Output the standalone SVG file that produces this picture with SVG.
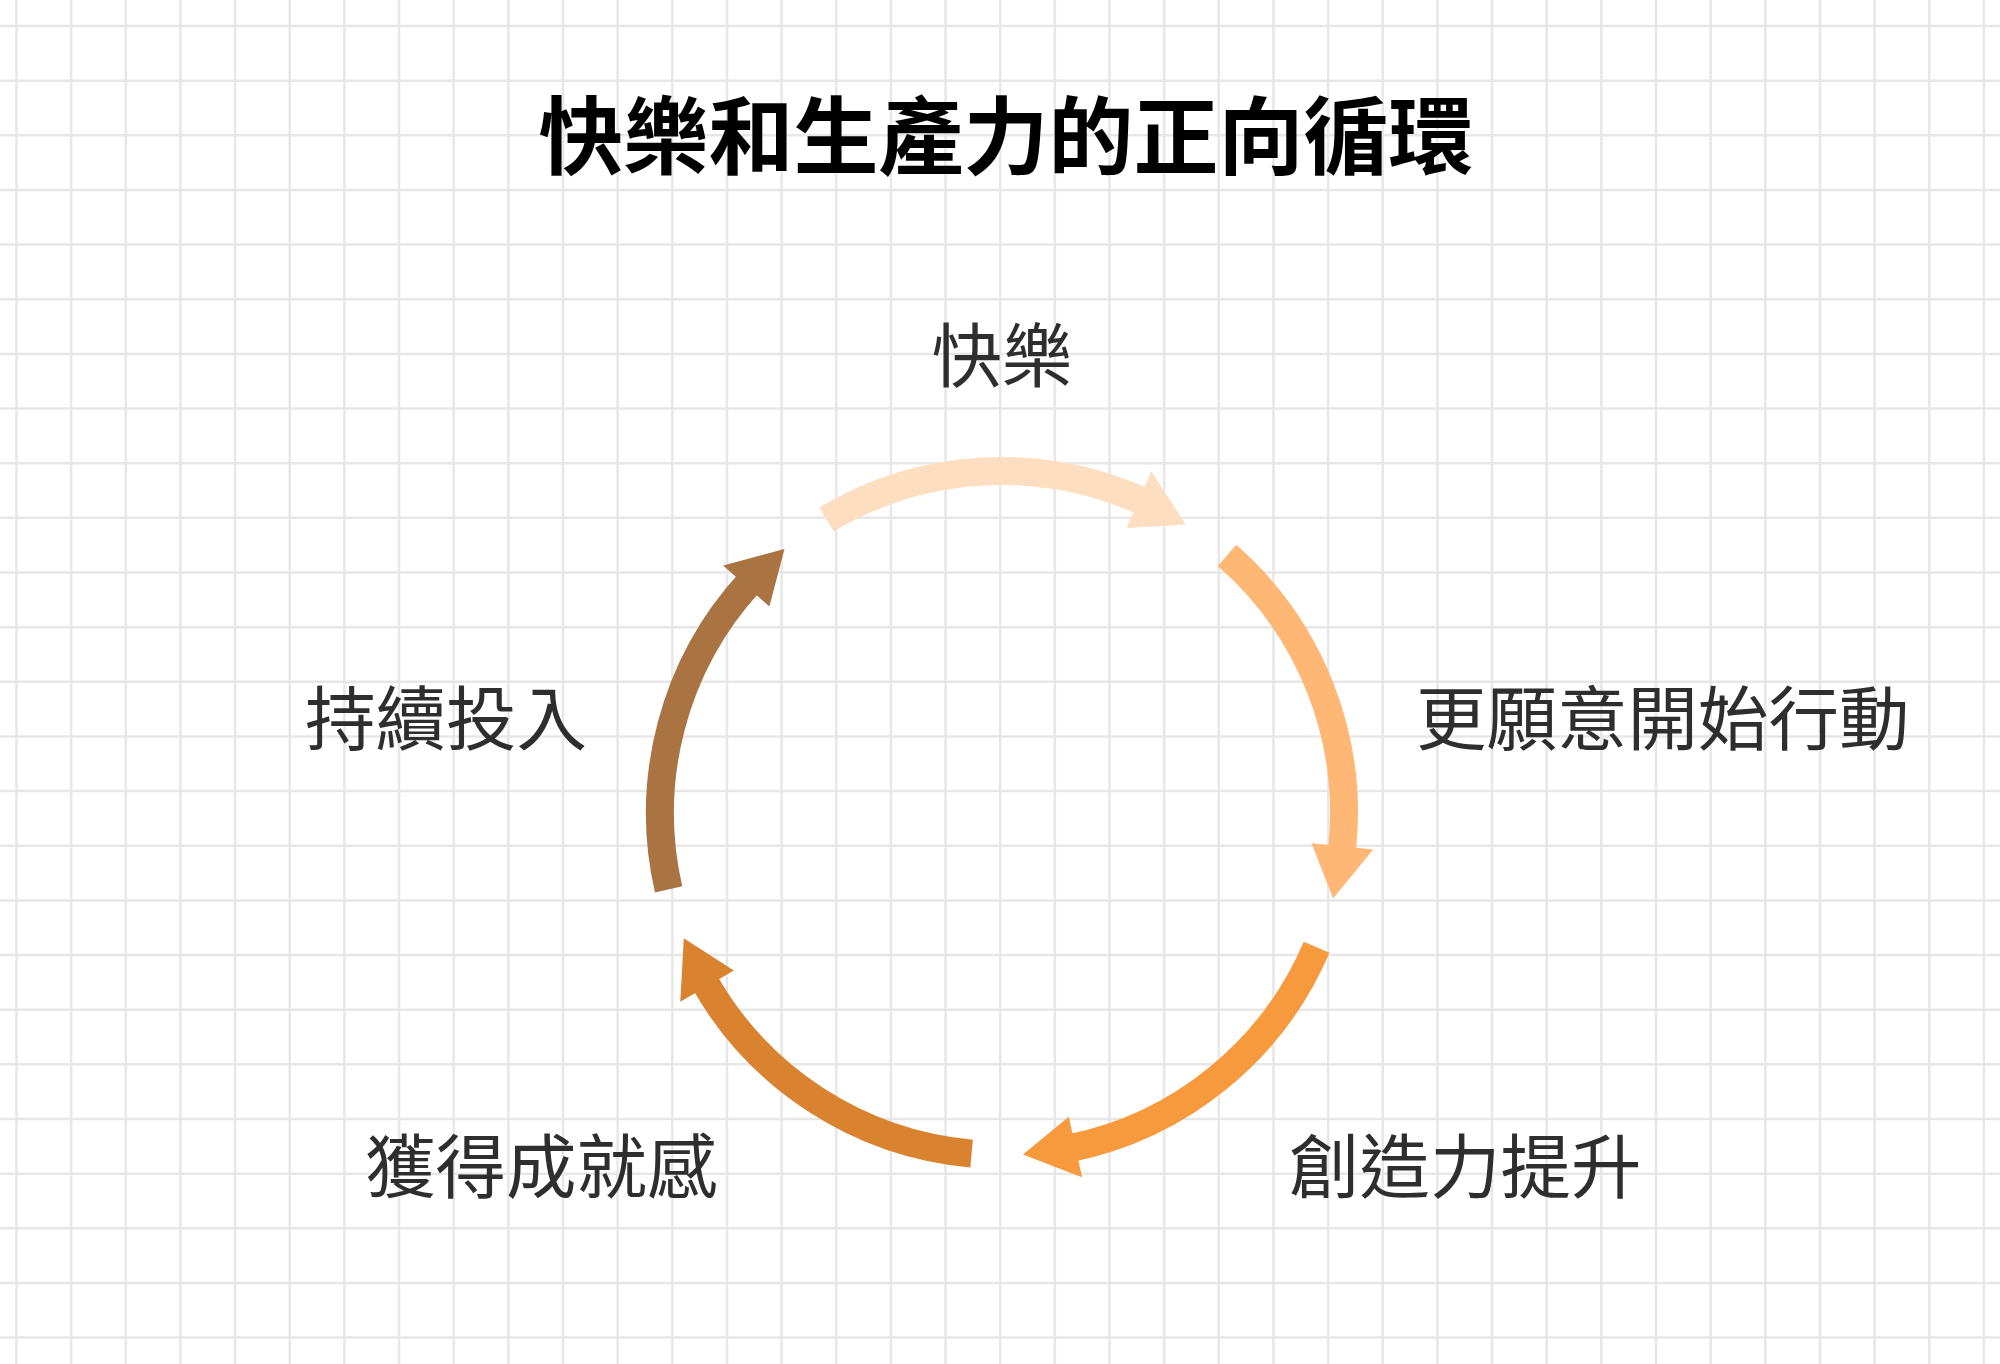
<svg xmlns="http://www.w3.org/2000/svg" width="2000" height="1364" viewBox="0 0 2000 1364">
<style>
.grid{fill:none;stroke:#e7e7e7;stroke-width:2.5}
.title{font-family:"Noto Sans CJK TC","Noto Sans CJK SC",sans-serif;font-weight:700;font-size:85px;fill:#000}
.label{font-family:"Noto Sans CJK TC","Noto Sans CJK SC",sans-serif;font-weight:400;font-size:70.5px;fill:#2e2e2e}
.shaft{fill:none;stroke-width:28;stroke-linecap:butt}
</style>
<rect x="0" y="0" width="2000" height="1364" fill="#ffffff"/>
<g id="grid">
<path class="grid" d="M16.5 0V1364M71.15 0V1364M125.8 0V1364M180.45 0V1364M235.1 0V1364M289.75 0V1364M344.4 0V1364M399.05 0V1364M453.7 0V1364M508.35 0V1364M563 0V1364M617.65 0V1364M672.3 0V1364M726.95 0V1364M781.6 0V1364M836.25 0V1364M890.9 0V1364M945.55 0V1364M1000.2 0V1364M1054.85 0V1364M1109.5 0V1364M1164.15 0V1364M1218.8 0V1364M1273.45 0V1364M1328.1 0V1364M1382.75 0V1364M1437.4 0V1364M1492.05 0V1364M1546.7 0V1364M1601.35 0V1364M1656 0V1364M1710.65 0V1364M1765.3 0V1364M1819.95 0V1364M1874.6 0V1364M1929.25 0V1364M1983.9 0V1364"/>
<path class="grid" d="M0 26H2000M0 80.65H2000M0 135.3H2000M0 189.95H2000M0 244.6H2000M0 299.25H2000M0 353.9H2000M0 408.55H2000M0 463.2H2000M0 517.85H2000M0 572.5H2000M0 627.15H2000M0 681.8H2000M0 736.45H2000M0 791.1H2000M0 845.75H2000M0 900.4H2000M0 955.05H2000M0 1009.7H2000M0 1064.35H2000M0 1119H2000M0 1173.65H2000M0 1228.3H2000M0 1282.95H2000M0 1337.6H2000"/>
</g>
<g id="title">
<text class="title" x="1006" y="168" text-anchor="middle">快樂和生產力的正向循環</text>
</g>
<g id="connectors">
<g id="arrow-happy-to-action">
<path class="shaft" stroke="#fddec0" d="M826.4 519.5A342 342 0 0 1 1144.4 502.1"/>
<polygon fill="#fddec0" points="1126.5,528 1151.3,471.2 1185.8,524.6"/>
</g>
<g id="arrow-action-to-creativity">
<path class="shaft" stroke="#ffb775" d="M1227 555.4A342 342 0 0 1 1341.7 852.3"/>
<polygon fill="#ffb775" points="1311.5,843.3 1373.2,849.4 1333.1,898.6"/>
</g>
<g id="arrow-creativity-to-achievement">
<path class="shaft" stroke="#f69a3d" d="M1316.6 947.2A342 342 0 0 1 1069.6 1148.3"/>
<polygon fill="#f69a3d" points="1068.8,1116.7 1082.1,1177.3 1022.9,1154.4"/>
</g>
<g id="arrow-achievement-to-invest">
<path class="shaft" stroke="#d98331" d="M971.6 1153.6A342 342 0 0 1 704.1 980.9"/>
<polygon fill="#d98331" points="733.8,970.4 680.3,1001.7 683.8,938.3"/>
</g>
<g id="arrow-invest-to-happy">
<path class="shaft" stroke="#a97442" d="M668.6 889.4A342 342 0 0 1 750.3 581.5"/>
<polygon fill="#a97442" points="769.4,606.5 723.1,565.4 784.5,549.1"/>
</g>
</g>
<g id="node-happy">
<text class="label" x="1002" y="382" text-anchor="middle">快樂</text>
</g>
<g id="node-action">
<text class="label" x="1416" y="745">更願意開始行動</text>
</g>
<g id="node-creativity">
<text class="label" x="1289" y="1193">創造力提升</text>
</g>
<g id="node-achievement">
<text class="label" x="365" y="1193">獲得成就感</text>
</g>
<g id="node-invest">
<text class="label" x="587" y="745" text-anchor="end">持續投入</text>
</g>
</svg>
